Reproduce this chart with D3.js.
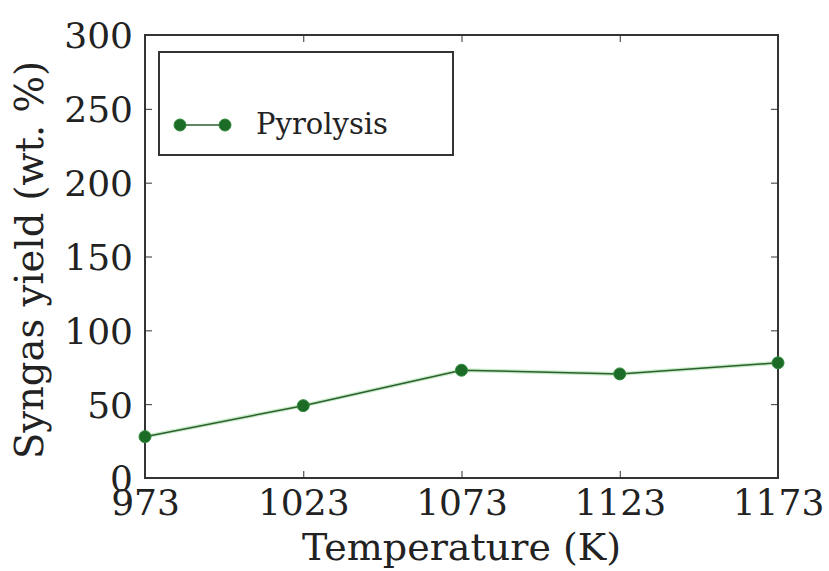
<!DOCTYPE html>
<html lang="en">
<head>
<meta charset="UTF-8">
<title>Syngas yield</title>
<script src="https://d3js.org/d3.v7.min.js"></script>
<style>
  body { margin: 0; background: #fff; }
  text { font-family: "DejaVu Serif", serif; fill: #222; }
</style>
</head>
<body>
<script>
var temps = [973, 1023, 1073, 1123, 1173];
var syngas = [28, 49, 73, 70.5, 78];
var yTicks = [0, 50, 100, 150, 200, 250, 300];
var seriesName = "Pyrolysis";

var width = 829, height = 571;
var pLeft = 145, pRight = 778, pTop = 35, pBottom = 478;
var green = "#1c6b27";

var svg = d3.select("body").append("svg")
    .attr("width", width)
    .attr("height", height);

var x = d3.scaleLinear().domain([973, 1173]).range([pLeft, pRight]);
var y = d3.scaleLinear().domain([0, 300]).range([pBottom, pTop]);

// ticks inward on all four sides
var tickStyle = function(g) {
    g.select(".domain").remove();
    g.selectAll(".tick line").attr("stroke", "#333").attr("stroke-width", 1);
};

svg.append("g")
    .attr("transform", "translate(0," + pBottom + ")")
    .call(d3.axisBottom(x).tickValues(temps).tickSize(-7).tickFormat(d3.format("d")))
    .call(tickStyle)
    .selectAll("text").attr("font-size", 36).attr("y", 37).attr("dy", 0);

svg.append("g")
    .attr("transform", "translate(0," + pTop + ")")
    .call(d3.axisTop(x).tickValues(temps).tickSize(-7).tickFormat(""))
    .call(tickStyle);

svg.append("g")
    .attr("transform", "translate(" + pLeft + ",0)")
    .call(d3.axisLeft(y).tickValues(yTicks).tickSize(-7).tickPadding(12))
    .call(tickStyle)
    .selectAll("text").attr("font-size", 36).attr("dy", "0.36em");

svg.append("g")
    .attr("transform", "translate(" + pRight + ",0)")
    .call(d3.axisRight(y).tickValues(yTicks).tickSize(-7).tickFormat(""))
    .call(tickStyle);

// frame
svg.append("rect")
    .attr("x", pLeft).attr("y", pTop)
    .attr("width", pRight - pLeft).attr("height", pBottom - pTop)
    .attr("fill", "none").attr("stroke", "#333").attr("stroke-width", 2);

var data = temps.map((t, i) => ({x: t, y: syngas[i]}));
var line = d3.line().x(d => x(d.x)).y(d => y(d.y));

var plot = svg.append("g");

plot.append("path")
    .datum(data)
    .attr("fill", "none")
    .attr("stroke", "#c8ecc8")
    .attr("stroke-width", 4)
    .attr("d", line);

plot.append("path")
    .datum(data)
    .attr("fill", "none")
    .attr("stroke", "#2d5e2f")
    .attr("stroke-width", 1.5)
    .attr("d", line);

plot.selectAll("circle")
    .data(data)
    .join("circle")
    .attr("cx", d => x(d.x))
    .attr("cy", d => y(d.y))
    .attr("r", 6)
    .attr("fill", green)
    .attr("stroke", "#2f8a3a")
    .attr("stroke-width", 1);

// legend
var legend = svg.append("g");
legend.append("rect")
    .attr("x", 159).attr("y", 52)
    .attr("width", 294).attr("height", 103)
    .attr("fill", "#fff").attr("stroke", "#333").attr("stroke-width", 2);
legend.append("line")
    .attr("x1", 180).attr("x2", 225).attr("y1", 125).attr("y2", 125)
    .attr("stroke", "#2d5e2f").attr("stroke-width", 1.5);
legend.selectAll("circle")
    .data([180, 225])
    .join("circle")
    .attr("cx", d => d).attr("cy", 125).attr("r", 6)
    .attr("fill", green).attr("stroke", "#2f8a3a");
legend.append("text")
    .attr("x", 256).attr("y", 134)
    .attr("font-size", 29)
    .text(seriesName);

// axis titles
svg.append("text")
    .attr("x", (pLeft + pRight) / 2).attr("y", 560)
    .attr("text-anchor", "middle")
    .attr("font-size", 38)
    .text("Temperature (K)");

svg.append("text")
    .attr("transform", "translate(43,260) rotate(-90)")
    .attr("text-anchor", "middle")
    .attr("font-size", 38.5)
    .text("Syngas yield (wt. %)");
</script>
</body>
</html>
